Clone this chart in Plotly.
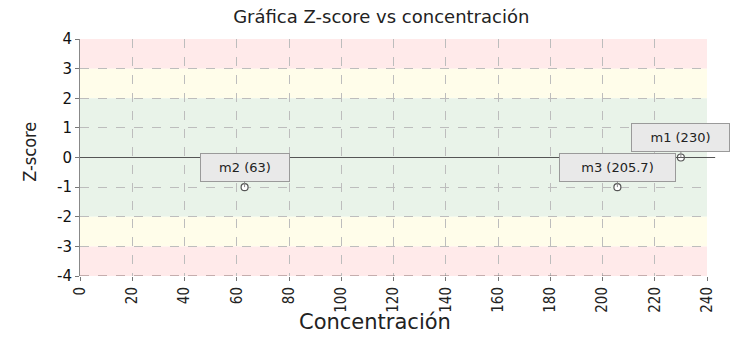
import plotly.graph_objects as go

# Measurements: label, concentration, z-score
labels = ["m1", "m2", "m3"]
concentracion = [230, 63, 205.7]
zscore = [0, -1, -1]

x_ticks = list(range(0, 241, 20))
y_ticks = list(range(-4, 5))

# Acceptance bands for the z-score
bands = [
    (3, 4, "#ffeaea"),
    (2, 3, "#fffdea"),
    (-2, 2, "#e9f3e9"),
    (-3, -2, "#fffdea"),
    (-4, -3, "#ffeaea"),
]

fig = go.Figure()

fig.add_trace(go.Scatter(
    x=concentracion, y=zscore, mode="markers",
    marker=dict(symbol="circle", size=7, color="white",
                line=dict(color="#555555", width=1.2)),
    hoverinfo="skip", cliponaxis=False, showlegend=False,
))

shapes = []
for y0, y1, col in bands:
    shapes.append(dict(type="rect", xref="x", yref="y", x0=0, x1=240,
                       y0=y0, y1=y1, fillcolor=col, line_width=0, layer="below"))
# zero reference line (runs slightly past the last tick)
shapes.append(dict(type="line", xref="paper", yref="y", x0=0, x1=1.013,
                   y0=0, y1=0, line=dict(color="#555555", width=1.2)))
# dashed bottom border
shapes.append(dict(type="line", xref="x", yref="y", x0=0, x1=240,
                   y0=-4, y1=-4, line=dict(color="#8a7070", width=1, dash="dash")))

annotations = []
for name, c, z in zip(labels, concentracion, zscore):
    txt = f"{name} ({c:g})"
    annotations.append(dict(
        x=c, y=z, xref="x", yref="y", text=txt,
        showarrow=True, arrowhead=0, arrowwidth=1, arrowcolor="#888888",
        ax=0, ay=-20,
        font=dict(family="DejaVu Sans", size=13, color="#222222"),
        bgcolor="#e9e9e9", bordercolor="#9a9a9a", borderwidth=1, borderpad=6,
        width=9 * len(txt) + 13,
    ))

# axis titles
annotations.append(dict(
    text="Concentración", xref="paper", yref="paper", x=0.4705, y=-0.196,
    xanchor="center", yanchor="middle", showarrow=False,
    font=dict(family="DejaVu Sans", size=21, color="#222222"),
))
annotations.append(dict(
    text="Z-score", xref="paper", yref="paper", x=-0.081, y=0.525,
    xanchor="center", yanchor="middle", textangle=-90, showarrow=False,
    font=dict(family="Liberation Sans Narrow, DejaVu Sans Condensed", size=18, color="#222222"),
))

fig.update_layout(
    width=736, height=339,
    margin=dict(l=80, r=29, t=39, b=63),
    paper_bgcolor="white", plot_bgcolor="white",
    title=dict(text="Gráfica Z-score vs concentración", x=0.518, xanchor="center",
               y=0.95, yanchor="middle",
               font=dict(family="DejaVu Sans", size=18, color="#222222")),
    shapes=shapes, annotations=annotations,
    xaxis=dict(
        range=[0, 240], tickvals=x_ticks, ticktext=[str(v) for v in x_ticks],
        tickangle=-90, ticks="outside", ticklen=4, tickcolor="#777777",
        tickfont=dict(family="Liberation Sans Narrow, DejaVu Sans Condensed", size=15, color="#222222"),
        showgrid=True, gridcolor="#bdbdbd", griddash="dash", gridwidth=1,
        zeroline=False, showline=False, automargin=False,
    ),
    yaxis=dict(
        range=[-4, 4], tickvals=y_ticks, ticktext=[str(v) for v in y_ticks],
        ticks="outside", ticklen=4, tickcolor="#777777",
        tickfont=dict(family="DejaVu Sans", size=15, color="#111111"),
        showgrid=True, gridcolor="#bdbdbd", griddash="dash", gridwidth=1,
        zeroline=False, showline=True, linecolor="#888888", linewidth=1,
        automargin=False,
    ),
)

fig.write_html("out.html")
